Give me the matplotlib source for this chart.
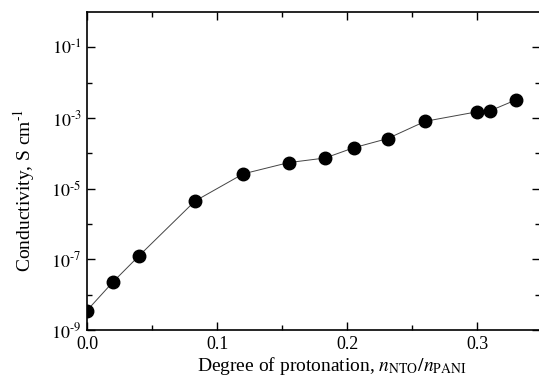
import matplotlib
matplotlib.use("Agg")
import matplotlib.pyplot as plt
import numpy as np
from matplotlib.ticker import FixedLocator, FixedFormatter

plt.rcParams["font.family"] = "Liberation Serif"
plt.rcParams["mathtext.fontset"] = "stix"

# degree of protonation and conductivity (S/cm)
degree = [0.0, 0.02, 0.04, 0.083, 0.12, 0.155, 0.183, 0.205, 0.231, 0.26, 0.30, 0.31, 0.33]
log_sigma = [-8.45, -7.64, -6.90, -5.35, -4.58, -4.26, -4.13, -3.84, -3.58, -3.09, -2.82, -2.79, -2.48]
conductivity = [10 ** v for v in log_sigma]

ytick_vals = [1e-9, 1e-7, 1e-5, 1e-3, 1e-1]
ytick_labels = ["$10^{\u20109}$", "$10^{\u20107}$", "$10^{\u20105}$", "$10^{\u20103}$", "$10^{\u20101}$"]
xtick_vals = [0.0, 0.1, 0.2, 0.3]
xtick_labels = ["0.0", "0.1", "0.2", "0.3"]

fig = plt.figure(figsize=(5.39, 3.81), dpi=100)
ax = fig.add_axes([0.1614, 0.134, 0.84, 0.834])

ax.plot(degree, conductivity, color="#444444", lw=0.7,
        marker="o", markersize=9, markerfacecolor="black", markeredgecolor="black")

ax.set_yscale("log")
ax.set_xlim(0, 0.348)
ax.set_ylim(1e-9, 1)

ax.yaxis.set_major_locator(FixedLocator(ytick_vals))
ax.yaxis.set_major_formatter(FixedFormatter(ytick_labels))
ax.yaxis.set_minor_locator(FixedLocator([1e-8, 1e-6, 1e-4, 1e-2]))
ax.yaxis.set_minor_formatter(FixedFormatter([]))

ax.xaxis.set_major_locator(FixedLocator(xtick_vals))
ax.xaxis.set_major_formatter(FixedFormatter(xtick_labels))
ax.xaxis.set_minor_locator(FixedLocator([0.05, 0.15, 0.25]))

ax.tick_params(which="both", direction="in", top=True, right=True, labelsize=13, width=1.0)
ax.tick_params(which="major", length=6, pad=4)
ax.tick_params(which="minor", length=3.5)
for s in ax.spines.values():
    s.set_linewidth(1.2)

ax.set_ylabel("Conductivity, S cm$^{\u20101}$", fontsize=14)
ax.set_xlabel(r"Degree of protonation, $n_{\mathrm{NTO}}/n_{\mathrm{PANI}}$", fontsize=14)
ax.yaxis.set_label_coords(-0.11, 0.44)
ax.xaxis.set_label_coords(0.54, -0.078)

fig.savefig("out.png", dpi=100)
